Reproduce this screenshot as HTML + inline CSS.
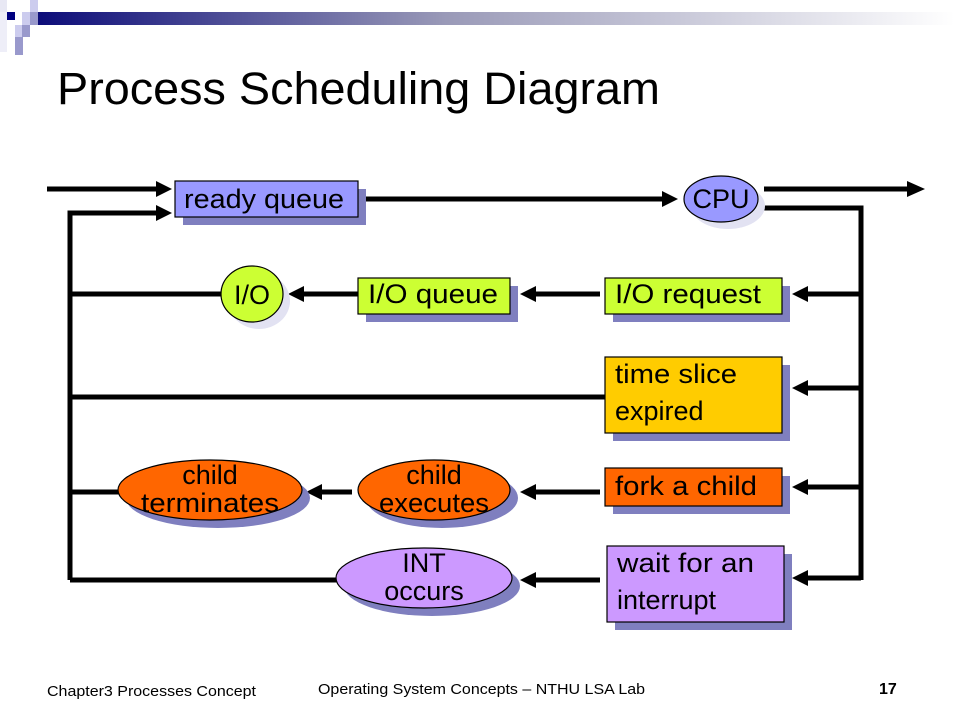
<!DOCTYPE html>
<html><head><meta charset="utf-8"><style>
html,body{margin:0;padding:0;background:#fff;width:955px;height:716px;overflow:hidden}
svg{display:block}
text{font-family:"Liberation Sans",sans-serif}
</style></head><body>
<svg width="955" height="716" viewBox="0 0 955 716" xmlns="http://www.w3.org/2000/svg">
<defs>
<linearGradient id="g" x1="0" x2="1" y1="0" y2="0">
<stop offset="0" stop-color="#0a0a78"/><stop offset="0.45" stop-color="#9a9ab8"/><stop offset="1" stop-color="#ffffff"/>
</linearGradient>
</defs>
<rect x="30" y="12" width="925" height="13" fill="url(#g)"/>
<rect x="7" y="12" width="8" height="8" fill="#000080"/>
<rect x="0" y="0" width="7" height="12" fill="#e8e8f4"/>
<rect x="30" y="0" width="8" height="12" fill="#ccccee"/>
<rect x="22" y="12" width="8" height="13" fill="#ccccee"/>
<rect x="30" y="12" width="8" height="13" fill="#9999cc"/>
<rect x="15" y="25" width="8" height="12" fill="#ccccee"/>
<rect x="22" y="25" width="8" height="12" fill="#9999cc"/>
<rect x="15" y="37" width="8" height="18" fill="#9999cc"/>
<rect x="0" y="12" width="7" height="40" fill="#eeeef8"/>
<text x="57" y="104" font-size="45" fill="#000" textLength="603" lengthAdjust="spacingAndGlyphs">Process Scheduling Diagram</text>

<g stroke="#000" stroke-width="5" fill="none">
<line x1="47" y1="189" x2="160" y2="189"/>
<polyline points="70,580 70,213 160,213"/>
<line x1="358" y1="199" x2="666" y2="199"/>
<line x1="764" y1="189" x2="910" y2="189"/>
<polyline points="764,208 861,208 861,580"/>
<line x1="861" y1="294" x2="804" y2="294"/>
<line x1="861" y1="388" x2="804" y2="388"/>
<line x1="861" y1="487" x2="804" y2="487"/>
<line x1="861" y1="578" x2="804" y2="578"/>
<line x1="600" y1="294" x2="532" y2="294"/>
<line x1="358" y1="294" x2="300" y2="294"/>
<line x1="600" y1="492" x2="532" y2="492"/>
<line x1="352" y1="492" x2="318" y2="492"/>
<line x1="600" y1="580" x2="532" y2="580"/>
<line x1="70" y1="294" x2="222" y2="294"/>
<line x1="70" y1="397" x2="606" y2="397"/>
<line x1="70" y1="492" x2="120" y2="492"/>
<line x1="70" y1="580" x2="338" y2="580"/>
</g>
<g fill="#000">
<polygon points="156,181 172,189 156,197"/>
<polygon points="156,205 172,213 156,221"/>
<polygon points="662,191 678,199 662,207"/>
<polygon points="907,181 925,189 907,197"/>
<polygon points="808,286 792,294 808,302"/>
<polygon points="808,380 792,388 808,396"/>
<polygon points="808,479 792,487 808,495"/>
<polygon points="808,570 792,578 808,586"/>
<polygon points="536,286 520,294 536,302"/>
<polygon points="304,286 288,294 304,302"/>
<polygon points="536,484 520,492 536,500"/>
<polygon points="322,484 306,492 322,500"/>
<polygon points="536,572 520,580 536,588"/>
</g>

<g stroke="#000" stroke-width="1.2">
<rect x="183" y="189" width="183" height="36" fill="#7f7fbf" stroke="none"/>
<rect x="175" y="181" width="183" height="36" fill="#9999ff"/>
<ellipse cx="728" cy="206" rx="37" ry="23" fill="#e2e2f2" stroke="none"/>
<ellipse cx="721" cy="199" rx="37" ry="23" fill="#9999ff"/>
<rect x="613" y="286" width="177" height="36" fill="#7f7fbf" stroke="none"/>
<rect x="605" y="278" width="177" height="36" fill="#ccff33"/>
<rect x="366" y="286" width="152" height="36" fill="#7f7fbf" stroke="none"/>
<rect x="358" y="278" width="152" height="36" fill="#ccff33"/>
<ellipse cx="259" cy="301" rx="31" ry="28" fill="#e2e2f2" stroke="none"/>
<ellipse cx="252" cy="294" rx="31" ry="28" fill="#ccff33"/>
<rect x="613" y="365" width="177" height="76" fill="#7f7fbf" stroke="none"/>
<rect x="605" y="357" width="177" height="76" fill="#ffcc00"/>
<rect x="613" y="476" width="177" height="38" fill="#7f7fbf" stroke="none"/>
<rect x="605" y="468" width="177" height="38" fill="#ff6600"/>
<rect x="615" y="554" width="177" height="76" fill="#7f7fbf" stroke="none"/>
<rect x="607" y="546" width="177" height="76" fill="#cc99ff"/>
<ellipse cx="218" cy="498" rx="92" ry="30" fill="#7f7fbf" stroke="none"/>
<ellipse cx="210" cy="490" rx="92" ry="30" fill="#ff6600"/>
<ellipse cx="442" cy="498" rx="76" ry="30" fill="#7f7fbf" stroke="none"/>
<ellipse cx="434" cy="490" rx="76" ry="30" fill="#ff6600"/>
<ellipse cx="432" cy="586" rx="88" ry="30" fill="#7f7fbf" stroke="none"/>
<ellipse cx="424" cy="578" rx="88" ry="30" fill="#cc99ff"/>
</g>

<g font-size="27" fill="#000">
<text x="184" y="208" textLength="160" lengthAdjust="spacingAndGlyphs">ready queue</text>
<text x="721" y="208" text-anchor="middle">CPU</text>
<text x="252" y="304" text-anchor="middle">I/O</text>
<text x="368" y="303" textLength="130" lengthAdjust="spacingAndGlyphs">I/O queue</text>
<text x="615" y="303" textLength="146" lengthAdjust="spacingAndGlyphs">I/O request</text>
<text x="615" y="383" textLength="122" lengthAdjust="spacingAndGlyphs">time slice</text>
<text x="615" y="420">expired</text>
<text x="615" y="495" textLength="142" lengthAdjust="spacingAndGlyphs">fork a child</text>
<text x="617" y="572" textLength="137" lengthAdjust="spacingAndGlyphs">wait for an</text>
<text x="617" y="609">interrupt</text>
<text x="210" y="484" text-anchor="middle">child</text>
<text x="210" y="512" text-anchor="middle" textLength="138" lengthAdjust="spacingAndGlyphs">terminates</text>
<text x="434" y="484" text-anchor="middle">child</text>
<text x="434" y="512" text-anchor="middle" textLength="110" lengthAdjust="spacingAndGlyphs">executes</text>
<text x="424" y="572" text-anchor="middle">INT</text>
<text x="424" y="600" text-anchor="middle">occurs</text>
</g>

<text x="47" y="696" font-size="15" textLength="209" lengthAdjust="spacingAndGlyphs">Chapter3 Processes Concept</text>
<text x="318" y="694" font-size="15" textLength="327" lengthAdjust="spacingAndGlyphs">Operating System Concepts – NTHU LSA Lab</text>
<text x="879" y="694" font-size="16" font-weight="bold">17</text>
</svg>
</body></html>
